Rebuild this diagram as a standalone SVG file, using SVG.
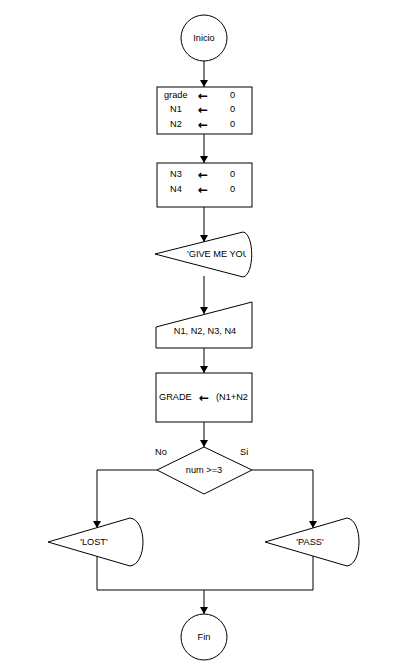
<svg xmlns="http://www.w3.org/2000/svg" width="416" height="665" viewBox="0 0 416 665">
<style>
.s{fill:#fff;stroke:#000;stroke-width:1}
.t{font-family:"Liberation Sans",Arial,sans-serif;font-size:9.2px;fill:#000}
.a{font-family:"DejaVu Sans",sans-serif;font-size:12px;font-weight:bold;fill:#000}
.c{fill:none;stroke:#000;stroke-width:1}
</style>
<defs>
<marker id="ah" markerWidth="8" markerHeight="8" refX="7" refY="4" orient="auto" markerUnits="userSpaceOnUse" viewBox="0 0 8 8">
<path d="M0,0 L7,4 L0,8 Z" fill="#000"/>
</marker>
<clipPath id="c1"><rect x="155" y="230" width="91" height="50"/></clipPath>
<clipPath id="c2"><rect x="157" y="374" width="94" height="47"/></clipPath>
</defs>
<g id="connectors">
<line class="c" x1="204" y1="61" x2="204" y2="87" marker-end="url(#ah)"/>
<line class="c" x1="204" y1="134" x2="204" y2="163" marker-end="url(#ah)"/>
<line class="c" x1="204" y1="207" x2="204" y2="242" marker-end="url(#ah)"/>
<line class="c" x1="204" y1="276" x2="204" y2="314" marker-end="url(#ah)"/>
<line class="c" x1="204" y1="348" x2="204" y2="373" marker-end="url(#ah)"/>
<line class="c" x1="204" y1="422" x2="204" y2="447" marker-end="url(#ah)"/>
<polyline class="c" points="157,470 97,470 97,528" marker-end="url(#ah)"/>
<polyline class="c" points="252,470 313,470 313,528" marker-end="url(#ah)"/>
<polyline class="c" points="97,556 97,590 313,590 313,556"/>
<line class="c" x1="204" y1="590" x2="204" y2="614" marker-end="url(#ah)"/>
</g>
<g id="start">
<circle class="s" cx="204" cy="38" r="23"/>
<text class="t" x="204" y="41" text-anchor="middle">Inicio</text>
</g>
<g id="init1">
<rect class="s" x="157" y="87" width="95" height="47"/>
<text class="t" x="164" y="98">grade</text>
<text class="a" x="198" y="99.5">←</text>
<text class="t" x="230" y="98">0</text>
<text class="t" x="170" y="112">N1</text>
<text class="a" x="198" y="113.5">←</text>
<text class="t" x="230" y="112">0</text>
<text class="t" x="170" y="127">N2</text>
<text class="a" x="198" y="128.5">←</text>
<text class="t" x="230" y="127">0</text>
</g>
<g id="init2">
<rect class="s" x="157" y="163" width="95" height="44"/>
<text class="t" x="170" y="177">N3</text>
<text class="a" x="198" y="178.5">←</text>
<text class="t" x="230" y="177">0</text>
<text class="t" x="170" y="192">N4</text>
<text class="a" x="198" y="193.5">←</text>
<text class="t" x="230" y="192">0</text>
</g>
<g id="display1">
<path class="s" d="M155,254 L243,232 C254.6,234 254.6,275 243,277 Z"/>
<text class="t" x="187" y="257" clip-path="url(#c1)">'GIVE ME YOU</text>
</g>
<g id="input">
<path class="s" d="M156,327 L252,302 L252,348 L156,348 Z"/>
<text class="t" x="205" y="334" text-anchor="middle">N1, N2, N3, N4</text>
</g>
<g id="assign">
<rect class="s" x="156" y="373" width="96" height="49"/>
<g clip-path="url(#c2)">
<text class="t" x="159" y="400">GRADE</text>
<text class="a" x="199" y="401.5">←</text>
<text class="t" x="216" y="400">(N1+N2</text>
</g>
</g>
<g id="decision">
<path class="s" d="M204,447 L252,470 L204,494 L157,470 Z"/>
<text class="t" x="204" y="473" text-anchor="middle">num &gt;=3</text>
<text class="t" x="155" y="455">No</text>
<text class="t" x="240" y="455">Si</text>
</g>
<g id="lost">
<path class="s" d="M48,542 L130,518 C147.3,520 147.3,564 130,566 Z"/>
<text class="t" x="94" y="545" text-anchor="middle">'LOST'</text>
</g>
<g id="pass">
<path class="s" d="M265,542 L347,518 C363,520 363,564 347,566 Z"/>
<text class="t" x="310" y="545" text-anchor="middle">'PASS'</text>
</g>
<g id="end">
<circle class="s" cx="204" cy="637" r="23"/>
<text class="t" x="204" y="640" text-anchor="middle">Fin</text>
</g>
</svg>
